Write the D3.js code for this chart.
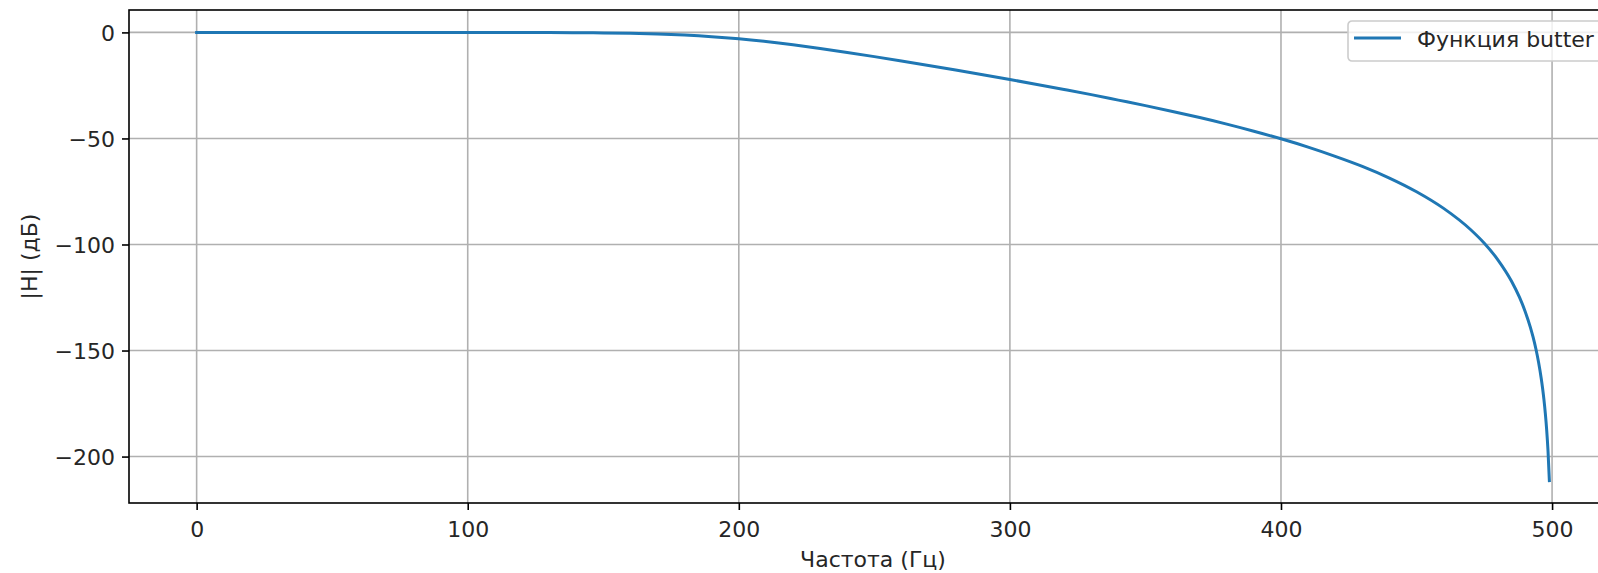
<!DOCTYPE html>
<html>
<head>
<meta charset="utf-8">
<script src="https://cdn.jsdelivr.net/npm/d3@7"></script>
<style>
  html, body { margin: 0; padding: 0; background: #fff; overflow: hidden; }
  svg { display: block; font-family: "DejaVu Sans", sans-serif; }
</style>
</head>
<body>
<svg id="chart" width="1598" height="573"></svg>
<script>
// Frequency (Hz) and magnitude response |H| (dB)
const freqs = [0, 50, 100, 120, 130, 140, 150, 160, 170, 180, 190, 200, 210, 220, 230, 240, 250,
  260, 270, 280, 290, 300, 310, 320, 330, 340, 350, 360, 370, 380, 390, 400, 410, 420,
  430, 440, 450, 460, 470, 475, 480, 485, 488, 490, 492, 493, 494, 495, 496, 496.5, 497,
  497.5, 498, 498.5, 499];
const magnitudes = [0, 0, -0.007, -0.034, -0.068, -0.132, -0.247, -0.443, -0.765, -1.267, -2.003,
  -3.010, -4.294, -5.827, -7.559, -9.439, -11.424, -13.483, -15.595, -17.761, -19.968,
  -22.224, -24.527, -26.907, -29.345, -31.928, -34.528, -37.274, -40.152, -43.245,
  -46.593, -50.157, -54.066, -58.417, -63.153, -68.660, -75.122, -82.979, -93.054,
  -99.421, -107.200, -117.215, -124.966, -131.315, -139.074, -143.715, -149.068,
  -155.407, -163.162, -167.80, -173.158, -179.49, -187.246, -197.24, -211.326];
const xTicks = [0, 100, 200, 300, 400, 500];
const yTicks = [0, -50, -100, -150, -200];
const seriesName = "Функция butter";
const xLabel = "Частота (Гц)";
const yLabel = "|H| (дБ)";

const svg = d3.select("#chart");
const mLeft = 129, mRight = 1617, mTop = 10, mBottom = 503;
const fontSize = 22;

const xMin = d3.min(freqs), xMax = d3.max(freqs);
const xPad = (xMax - xMin) * 0.05;
const yMin = d3.min(magnitudes), yMax = d3.max(magnitudes);
const yPad = (yMax - yMin) * 0.05;

const x = d3.scaleLinear().domain([xMin - xPad, xMax + xPad]).range([mLeft, mRight]);
const y = d3.scaleLinear().domain([yMin - yPad, yMax + yPad]).range([mBottom, mTop]);

const fmt = d => (d < 0 ? "\u2212" + Math.abs(d) : String(d));

// grid
const grid = svg.append("g");
grid.selectAll("line.vx").data(xTicks).join("line")
  .attr("x1", d => x(d)).attr("x2", d => x(d))
  .attr("y1", mTop).attr("y2", mBottom)
  .attr("stroke", "#b0b0b0").attr("stroke-width", 1.6);
grid.selectAll("line.hy").data(yTicks).join("line")
  .attr("x1", mLeft).attr("x2", mRight)
  .attr("y1", d => y(d)).attr("y2", d => y(d))
  .attr("stroke", "#b0b0b0").attr("stroke-width", 1.6);

// line
const line = d3.line()
  .x((d, i) => x(freqs[i]))
  .y(d => y(d))
  .curve(d3.curveMonotoneX);
svg.append("path")
  .datum(magnitudes)
  .attr("d", line)
  .attr("fill", "none")
  .attr("stroke", "#1f77b4")
  .attr("stroke-width", 3)
  .attr("stroke-linecap", "square");

// axes
const xAxis = d3.axisBottom(x).tickValues(xTicks).tickFormat(fmt).tickSize(7).tickPadding(7);
const yAxis = d3.axisLeft(y).tickValues(yTicks).tickFormat(fmt).tickSize(7).tickPadding(7);

const gx = svg.append("g").attr("transform", `translate(0,${mBottom})`).call(xAxis);
const gy = svg.append("g").attr("transform", `translate(${mLeft},0)`).call(yAxis);
[gx, gy].forEach(g => {
  g.select(".domain").remove();
  g.selectAll(".tick line").attr("stroke", "#000").attr("stroke-width", 1.6);
  g.selectAll(".tick text").attr("fill", "#262626").style("font-size", fontSize + "px")
    .style("font-family", "DejaVu Sans");
});
gx.selectAll(".tick text").attr("dy", null).attr("y", 34);
gy.selectAll(".tick text").attr("dy", "0.36em");

// frame
svg.append("rect")
  .attr("x", mLeft).attr("y", mTop)
  .attr("width", mRight - mLeft).attr("height", mBottom - mTop)
  .attr("fill", "none").attr("stroke", "#000").attr("stroke-width", 1.6);

// axis labels
svg.append("text")
  .attr("x", (mLeft + mRight) / 2).attr("y", 567)
  .attr("text-anchor", "middle")
  .attr("fill", "#262626")
  .style("font-size", fontSize + "px")
  .text(xLabel);
svg.append("text")
  .attr("transform", `translate(37,${(mTop + mBottom) / 2}) rotate(-90)`)
  .attr("text-anchor", "middle")
  .attr("fill", "#262626")
  .style("font-size", fontSize + "px")
  .text(yLabel);

// legend
const lg = svg.append("g").attr("transform", "translate(1348,21)");
lg.append("rect")
  .attr("x", 0).attr("y", 0).attr("width", 260).attr("height", 40)
  .attr("rx", 4).attr("ry", 4)
  .attr("fill", "#fff").attr("fill-opacity", 0.8)
  .attr("stroke", "#cccccc").attr("stroke-width", 1.6);
lg.append("line")
  .attr("x1", 6).attr("x2", 53).attr("y1", 17).attr("y2", 17)
  .attr("stroke", "#1f77b4").attr("stroke-width", 3);
lg.append("text")
  .attr("x", 69).attr("y", 26)
  .attr("fill", "#262626")
  .style("font-size", fontSize + "px")
  .text(seriesName);
</script>
</body>
</html>
